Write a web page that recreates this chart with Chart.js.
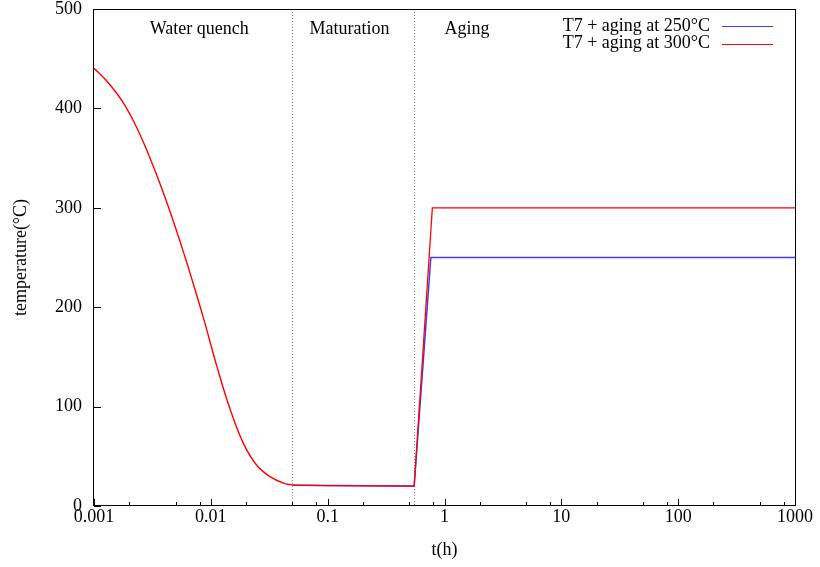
<!DOCTYPE html>
<html>
<head>
<meta charset="utf-8">
<script src="https://cdn.jsdelivr.net/npm/chart.js@4.4.1/dist/chart.umd.min.js"></script>
<style>
  html, body { margin: 0; padding: 0; background: #fff; }
  canvas { display: block; }
</style>
</head>
<body>
<canvas id="tempChart" width="820" height="567"></canvas>
<script>
// quench curve (t in h, temperature in °C)
const quenchTime = [0.001, 0.00125, 0.00157, 0.00185, 0.00226, 0.00275, 0.00335, 0.00408, 0.00497, 0.00605, 0.00663, 0.00863, 0.0112, 0.0146, 0.019, 0.0247, 0.0321, 0.0418, 0.05];
const quenchTemp = [440.5, 429, 415, 402.5, 383.5, 361.5, 336.5, 309.5, 280.5, 249.5, 234.5, 189.5, 141.5, 97.5, 63, 41, 29.5, 23, 21];

// maturation plateau
const maturationTime = [0.05, 0.1, 0.55];
const maturationTemp = [21, 20.5, 20];

// aging ramp + hold
const aging250Time = [0.764, 1000];
const aging250Temp = [250, 250];
const aging300Time = [0.787, 1000];
const aging300Temp = [300, 300];

const seriesLabels = ['T7 + aging at 250°C', 'T7 + aging at 300°C'];

const xTickValues = [0.001, 0.01, 0.1, 1, 10, 100, 1000];
const xTickLabels = ['0.001', '0.01', '0.1', '1', '10', '100', '1000'];
const yTickValues = [0, 100, 200, 300, 400, 500];

const phaseBounds = [0.05, 0.55];
const phaseNames = ['Water quench', 'Maturation', 'Aging'];
const phaseLabelX = [0.003, 0.07, 1];
const phaseLabelY = 480;

const FONT = '"Liberation Serif", "Times New Roman", serif';
const BLUE = '#3c3cff';
const RED = '#ff0000';

function toPoints(times, temps) {
    return times.map((t, i) => ({ x: t, y: temps[i] }));
}

const quenchData = toPoints(quenchTime, quenchTemp);
const blueData = toPoints(maturationTime, maturationTemp).concat(toPoints(aging250Time, aging250Temp));
const redData = toPoints(maturationTime, maturationTemp).concat(toPoints(aging300Time, aging300Temp));

// gnuplot-like frame, inward ticks, phase lines and labels, legend
const decorPlugin = {
    id: 'decor',
    beforeDatasetsDraw(chart) {
        const { ctx, chartArea: a, scales } = chart;
        ctx.save();
        ctx.strokeStyle = '#888';
        ctx.lineWidth = 1;
        ctx.setLineDash([1, 2]);
        phaseBounds.forEach(v => {
            const px = Math.round(scales.x.getPixelForValue(v)) + 0.5;
            ctx.beginPath();
            ctx.moveTo(px, a.top);
            ctx.lineTo(px, a.bottom);
            ctx.stroke();
        });
        ctx.restore();
    },
    afterDatasetsDraw(chart) {
        const { ctx, chartArea: a, scales } = chart;
        const x = scales.x, y = scales.y;
        ctx.save();
        ctx.strokeStyle = '#000';
        ctx.lineWidth = 1;
        ctx.strokeRect(Math.round(a.left) - 0.5, Math.round(a.top) + 0.5,
            Math.round(a.right - a.left) + 1, Math.round(a.bottom - a.top) - 1);

        // y ticks
        ctx.beginPath();
        yTickValues.forEach(v => {
            const py = Math.round(y.getPixelForValue(v)) + 0.5;
            ctx.moveTo(a.left, py);
            ctx.lineTo(a.left + 7, py);
        });
        // x ticks, major + minor at 2, 5, 8
        xTickValues.forEach((v, i) => {
            const px = Math.round(x.getPixelForValue(v)) + 0.5;
            ctx.moveTo(px, a.bottom);
            ctx.lineTo(px, a.bottom - 7);
            if (i < xTickValues.length - 1) {
                [2, 5, 8].forEach(m => {
                    const mx = Math.round(x.getPixelForValue(v * m)) + 0.5;
                    ctx.moveTo(mx, a.bottom);
                    ctx.lineTo(mx, a.bottom - 4);
                });
            }
        });
        ctx.stroke();

        // phase labels
        ctx.fillStyle = '#000';
        ctx.font = '18px ' + FONT;
        ctx.textAlign = 'left';
        ctx.textBaseline = 'middle';
        phaseNames.forEach((name, i) => {
            ctx.fillText(name, x.getPixelForValue(phaseLabelX[i]), y.getPixelForValue(phaseLabelY));
        });

        // legend: text then line sample
        ctx.textAlign = 'right';
        chart.data.datasets.filter(ds => ds.inLegend).forEach((ds, i) => {
            const ly = 26 + i * 17.6;
            ctx.fillStyle = '#000';
            ctx.fillText(ds.label, 710, ly);
            ctx.strokeStyle = ds.borderColor;
            ctx.beginPath();
            ctx.moveTo(722, Math.round(ly) + 0.5);
            ctx.lineTo(773, Math.round(ly) + 0.5);
            ctx.stroke();
        });
        ctx.restore();
    }
};

new Chart(document.getElementById('tempChart'), {
    type: 'line',
    data: {
        datasets: [{
            label: seriesLabels[0],
            inLegend: true,
            data: blueData,
            borderColor: BLUE,
            borderWidth: 1.5,
            pointRadius: 0,
            tension: 0,
            order: 2
        }, {
            label: seriesLabels[1],
            inLegend: true,
            data: redData,
            borderColor: RED,
            borderWidth: 1.3,
            pointRadius: 0,
            tension: 0,
            order: 1
        }, {
            // quench part is shared by both runs, red is drawn on top
            label: 'quench',
            inLegend: false,
            data: quenchData,
            borderColor: RED,
            borderWidth: 1.4,
            pointRadius: 0,
            tension: 0.4,
            order: 0
        }]
    },
    options: {
        responsive: false,
        animation: false,
        devicePixelRatio: 1,
        layout: { padding: { left: 0, right: 25, top: 9, bottom: 0 } },
        plugins: {
            legend: { display: false },
            tooltip: { enabled: false }
        },
        scales: {
            x: {
                type: 'logarithmic',
                min: 0.001,
                max: 1000,
                grid: { display: false, drawTicks: false },
                border: { display: false },
                afterBuildTicks: s => { s.ticks = xTickValues.map(v => ({ value: v })); },
                afterFit: s => { s.height = 61; s.paddingLeft = 0; s.paddingRight = 0; },
                ticks: {
                    autoSkip: false,
                    maxRotation: 0,
                    padding: 2,
                    color: '#000',
                    font: { family: FONT, size: 18, lineHeight: 1 },
                    callback: v => xTickLabels[xTickValues.indexOf(v)]
                },
                title: {
                    display: true,
                    text: 't(h)',
                    color: '#000',
                    font: { family: FONT, size: 18, lineHeight: 1.2 },
                    padding: { top: 0, bottom: 6 }
                }
            },
            y: {
                type: 'linear',
                min: 0,
                max: 500,
                grid: { display: false, drawTicks: false },
                border: { display: false },
                afterFit: s => { s.width = 94; s.paddingTop = 0; s.paddingBottom = 0; },
                ticks: {
                    stepSize: 100,
                    padding: 12,
                    color: '#000',
                    font: { family: FONT, size: 18, lineHeight: 1 }
                },
                title: {
                    display: true,
                    text: 'temperature(°C)',
                    color: '#000',
                    font: { family: FONT, size: 18, lineHeight: 1.2 },
                    padding: { top: 10, bottom: 0 }
                }
            }
        }
    },
    plugins: [decorPlugin]
});
</script>
</body>
</html>
